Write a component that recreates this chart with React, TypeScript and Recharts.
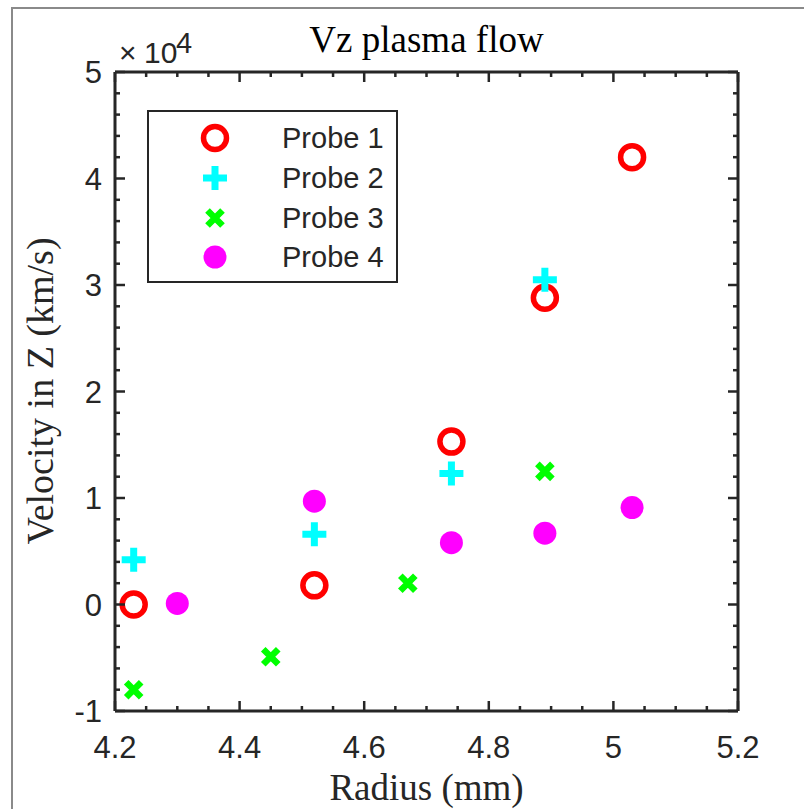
import React from "react";
import { Legend, Scatter, ScatterChart, XAxis, YAxis } from "recharts";

type Pt = { x: number; y: number };

// tick labels (y values are raw, shown as x10^4)
const X_MAJOR = [4.2, 4.4, 4.6, 4.8, 5, 5.2];
const X_LABELS = ["4.2", "4.4", "4.6", "4.8", "5", "5.2"];
const Y_MAJOR = [-10000, 0, 10000, 20000, 30000, 40000, 50000];
const Y_LABELS = ["-1", "0", "1", "2", "3", "4", "5"];

// minor tick spacing, like MATLAB's auto minor ticks
const X_MINOR = 0.05;
const Y_MINOR = 2000;

const PROBE_1: Pt[] = [
  { x: 4.23, y: 0 },
  { x: 4.52, y: 1800 },
  { x: 4.74, y: 15300 },
  { x: 4.89, y: 28800 },
  { x: 5.03, y: 42000 },
];
const PROBE_2: Pt[] = [
  { x: 4.23, y: 4200 },
  { x: 4.52, y: 6600 },
  { x: 4.74, y: 12300 },
  { x: 4.89, y: 30500 },
];
const PROBE_3: Pt[] = [
  { x: 4.23, y: -8000 },
  { x: 4.45, y: -4900 },
  { x: 4.67, y: 2000 },
  { x: 4.89, y: 12500 },
];
const PROBE_4: Pt[] = [
  { x: 4.3, y: 100 },
  { x: 4.52, y: 9700 },
  { x: 4.74, y: 5800 },
  { x: 4.89, y: 6700 },
  { x: 5.03, y: 9100 },
];

const X_TICKS: number[] = [];
for (let v = X_MAJOR[0]; v <= X_MAJOR[X_MAJOR.length - 1] + 1e-9; v += X_MINOR) X_TICKS.push(+v.toFixed(2));
const Y_TICKS: number[] = [];
for (let v = Y_MAJOR[0]; v <= Y_MAJOR[Y_MAJOR.length - 1]; v += Y_MINOR) Y_TICKS.push(v);

const AX = "#262626";
const SANS = "Arial, 'Liberation Sans', Helvetica, sans-serif";
const SERIF = "'Liberation Serif', 'Times New Roman', serif";

type ShapeProps = { cx?: number; cy?: number };

const ring = ({ cx = 0, cy = 0 }: ShapeProps) => (
  <circle cx={cx} cy={cy} r={11.5} fill="none" stroke="#ff0000" strokeWidth={5.5} />
);
const plus = ({ cx = 0, cy = 0 }: ShapeProps) => (
  <path d={`M${cx - 12},${cy}H${cx + 12}M${cx},${cy - 12}V${cy + 12}`} stroke="#00ffff" strokeWidth={7} />
);
const cross = ({ cx = 0, cy = 0 }: ShapeProps) => (
  <path
    d={`M${cx - 7.5},${cy - 7.5}L${cx + 7.5},${cy + 7.5}M${cx - 7.5},${cy + 7.5}L${cx + 7.5},${cy - 7.5}`}
    stroke="#00ff00"
    strokeWidth={6.5}
  />
);
const dot = ({ cx = 0, cy = 0 }: ShapeProps) => <circle cx={cx} cy={cy} r={11.5} fill="#ff00ff" />;

const SERIES = [
  { name: "Probe 1", data: PROBE_1, shape: ring },
  { name: "Probe 2", data: PROBE_2, shape: plus },
  { name: "Probe 3", data: PROBE_3, shape: cross },
  { name: "Probe 4", data: PROBE_4, shape: dot },
];

function labelFor(v: number, major: number[], labels: string[]) {
  const i = major.findIndex((m) => Math.abs(m - v) < 1e-6);
  return i < 0 ? null : labels[i];
}

type Side = "bottom" | "top" | "left" | "right";

// ticks point inward; major ones get a label on bottom/left only
const tick = (side: Side) => (p: any) => {
  const { x, y, payload } = p;
  const v = payload.value;
  const isX = side === "bottom" || side === "top";
  const label = isX ? labelFor(v, X_MAJOR, X_LABELS) : labelFor(v, Y_MAJOR, Y_LABELS);
  const len = label ? 10 : 5;
  const d = { bottom: [0, -len], top: [0, len], left: [len, 0], right: [-len, 0] }[side];
  return (
    <g>
      <line x1={x} y1={y} x2={x + d[0]} y2={y + d[1]} stroke={AX} strokeWidth={2.5} />
      {label && side === "bottom" && (
        <text x={x} y={y + 47} textAnchor="middle" fill={AX} fontSize={31} fontFamily={SANS}>
          {label}
        </text>
      )}
      {label && side === "left" && (
        <text x={x - 13} y={y + 11} textAnchor="end" fill={AX} fontSize={31} fontFamily={SANS}>
          {label}
        </text>
      )}
    </g>
  );
};

const renderLegend = () => (
  <div
    style={{
      position: "relative",
      width: 251,
      height: 173,
      boxSizing: "border-box",
      border: `2.5px solid ${AX}`,
      background: "#fff",
    }}
  >
    {SERIES.map((s, i) => (
      <div key={s.name}>
        <svg width={40} height={40} style={{ position: "absolute", left: 46, top: 8 + i * 39.8 - 2 }}>
          {s.shape({ cx: 20, cy: 20 })}
        </svg>
        <span
          style={{
            position: "absolute",
            left: 133,
            top: 8 + i * 39.8 - 2,
            lineHeight: "40px",
            fontSize: 29,
            fontFamily: SANS,
            color: AX,
            whiteSpace: "nowrap",
          }}
        >
          {s.name}
        </span>
      </div>
    ))}
  </div>
);

export default function App() {
  const axisLine = { stroke: AX, strokeWidth: 3 };
  return (
    <div style={{ position: "absolute", left: 0, top: 0, width: 804, height: 809, overflow: "hidden", background: "#fff" }}>
      <div
        style={{
          position: "absolute",
          left: 11,
          top: 7,
          width: 900,
          height: 900,
          borderLeft: "2px solid #8a8a8a",
          borderTop: "2px solid #8a8a8a",
        }}
      />
      <ScatterChart width={804} height={809} margin={{ top: 0, right: 0, bottom: 0, left: 0 }}>
        <XAxis
          xAxisId="b"
          type="number"
          dataKey="x"
          orientation="bottom"
          domain={[4.2, 5.2]}
          ticks={X_TICKS}
          interval={0}
          height={98}
          tickSize={0}
          tickMargin={0}
          tickLine={false}
          axisLine={axisLine}
          tick={tick("bottom")}
          allowDataOverflow
        />
        <XAxis
          xAxisId="t"
          type="number"
          dataKey="x"
          orientation="top"
          domain={[4.2, 5.2]}
          ticks={X_TICKS}
          interval={0}
          height={72}
          tickSize={0}
          tickMargin={0}
          tickLine={false}
          axisLine={axisLine}
          tick={tick("top")}
          allowDataOverflow
        />
        <YAxis
          yAxisId="l"
          type="number"
          dataKey="y"
          orientation="left"
          domain={[-10000, 50000]}
          ticks={Y_TICKS}
          interval={0}
          width={115}
          tickSize={0}
          tickMargin={0}
          tickLine={false}
          axisLine={axisLine}
          tick={tick("left")}
          allowDataOverflow
        />
        <YAxis
          yAxisId="r"
          type="number"
          dataKey="y"
          orientation="right"
          domain={[-10000, 50000]}
          ticks={Y_TICKS}
          interval={0}
          width={66}
          tickSize={0}
          tickMargin={0}
          tickLine={false}
          axisLine={axisLine}
          tick={tick("right")}
          allowDataOverflow
        />
        {SERIES.map((s) => (
          <Scatter
            key={s.name}
            name={s.name}
            data={s.data}
            xAxisId="b"
            yAxisId="l"
            shape={s.shape}
            isAnimationActive={false}
          />
        ))}
        {/* keeps the top/right mirror axes bound to something */}
        <Scatter
          data={PROBE_1}
          xAxisId="t"
          yAxisId="r"
          shape={() => <g />}
          legendType="none"
          isAnimationActive={false}
        />
        <Legend
          layout="vertical"
          align="center"
          verticalAlign="middle"
          content={renderLegend}
          wrapperStyle={{ left: 147, top: 110, width: 251, height: 173 }}
        />
      </ScatterChart>
      <svg width={804} height={809} style={{ position: "absolute", left: 0, top: 0, pointerEvents: "none" }}>
        <text x={426.5} y={52} textAnchor="middle" fontSize={37} fontFamily={SERIF} fill="#000">
          Vz plasma flow
        </text>
        <text x={426.5} y={800} textAnchor="middle" fontSize={37} fontFamily={SERIF} fill={AX}>
          Radius (mm)
        </text>
        <text transform="translate(53,391) rotate(-90)" textAnchor="middle" fontSize={38} fontFamily={SERIF} fill={AX}>
          Velocity in Z (km/s)
        </text>
        <text fontFamily={SANS} fill={AX}>
          <tspan x={119} y={63} fontSize={30}>×</tspan>
          <tspan x={144} y={63} fontSize={30}>10</tspan>
          <tspan x={176} y={53} fontSize={29}>4</tspan>
        </text>
      </svg>
    </div>
  );
}
